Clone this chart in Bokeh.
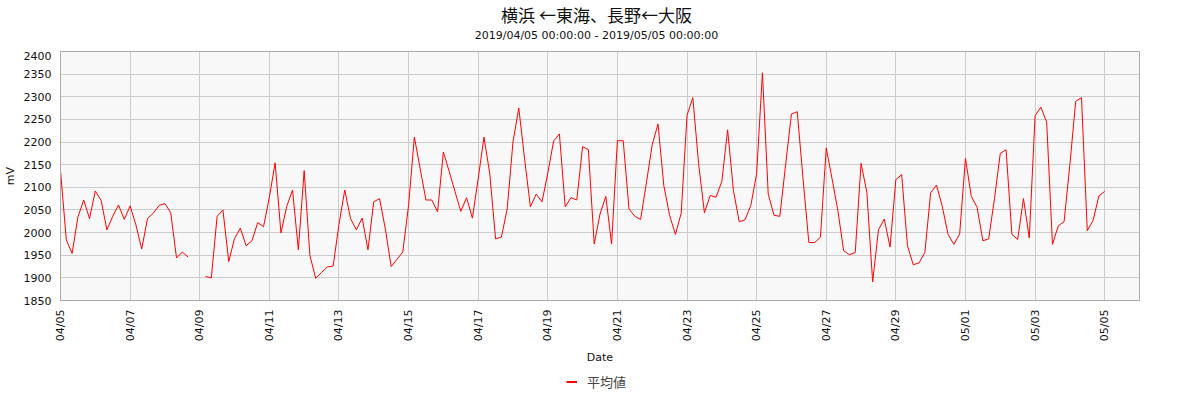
import math
import numpy as np
import pandas as pd
from bokeh.plotting import figure
from bokeh.layouts import column
from bokeh.models import (ColumnDataSource, FixedTicker, DatetimeTickFormatter,
                          Range1d, Label, Legend, LegendItem)
from bokeh.embed import file_html
from bokeh.resources import INLINE

title_text = "横浜 ←東海、長野←大阪"
subtitle_text = "2019/04/05 00:00:00 - 2019/05/05 00:00:00"
series_name = "平均値"
x_label = "Date"
y_label = "mV"
start_time = "2019-04-05 00:00"
step = "4h"

# 4-hourly mean values (mV); None = missing
values_0405_0409 = [2137, 1984, 1954, 2034, 2072, 2031, 2092, 2071, 2006, 2036,
                    2061, 2029, 2059, 2017, 1964, 2031, 2043, 2060, 2064, 2044,
                    1944, 1957, 1946, None, None, 1903, 1900, 2036, 2050, 1936]
values_0410_0414 = [1987, 2010, 1971, 1982, 2022, 2013, 2078, 2154, 1999, 2058,
                    2094, 1962, 2137, 1949, 1899, 1912, 1924, 1926, 2018, 2094,
                    2031, 2006, 2032, 1962, 2068, 2075, 2008, 1925, 1941, 1957]
values_0415_0419 = [2060, 2211, 2141, 2072, 2072, 2046, 2178, 2135, 2091, 2047,
                    2077, 2032, 2119, 2211, 2130, 1986, 1990, 2052, 2200, 2275,
                    2163, 2057, 2085, 2068, 2131, 2202, 2218, 2057, 2077, 2072]
values_0420_0424 = [2190, 2183, 1975, 2041, 2080, 1975, 2203, 2203, 2052, 2036,
                    2029, 2110, 2194, 2240, 2104, 2038, 1996, 2043, 2259, 2298,
                    2152, 2044, 2082, 2078, 2113, 2227, 2093, 2024, 2028, 2060]
values_0425_0429 = [2130, 2353, 2085, 2038, 2036, 2150, 2262, 2267, 2119, 1978,
                    1978, 1990, 2187, 2119, 2049, 1960, 1951, 1956, 2153, 2089,
                    1891, 2006, 2030, 1968, 2117, 2128, 1971, 1929, 1933, 1956]
values_0430_0505 = [2088, 2105, 2058, 1996, 1974, 1997, 2164, 2080, 2056, 1982,
                    1986, 2075, 2175, 2183, 1996, 1985, 2075, 1988, 2258, 2277,
                    2244, 1974, 2015, 2024, 2150, 2290, 2298, 2004, 2027, 2081,
                    2091]

y_ticks = list(range(1850, 2401, 50))
x_tick_dates = pd.date_range("2019-04-05", "2019-05-05", freq="2D")

all_vals = (values_0405_0409 + values_0410_0414 + values_0415_0419 +
            values_0420_0424 + values_0425_0429 + values_0430_0505)
y = np.array([np.nan if v is None else float(v) for v in all_vals])
t = pd.date_range(start_time, periods=len(y), freq=step)

src = ColumnDataSource(data=dict(t=t, y=y))

W = 1184
HEAD_H, FOOT_H = 51, 22

# ---- header (titles) ----
head = figure(width=W, height=HEAD_H, x_range=Range1d(0, W), y_range=Range1d(0, HEAD_H),
              output_backend="svg", toolbar_location=None,
              x_axis_location=None, y_axis_location=None, min_border=0)
head.grid.visible = False
head.outline_line_color = None
head.add_layout(Label(x=W / 2, y=37, text=title_text,
                      text_align="center", text_baseline="middle",
                      text_font="Noto Sans CJK JP", text_font_size="17px",
                      text_color="#111111"))
head.add_layout(Label(x=W / 2, y=16, text=subtitle_text,
                      text_align="center", text_baseline="middle",
                      text_font="DejaVu Sans", text_font_size="11px",
                      text_color="#111111"))

# ---- main plot ----
p = figure(frame_width=1079, frame_height=249, x_axis_type="datetime",
           output_backend="svg", toolbar_location=None,
           x_range=Range1d(pd.Timestamp("2019-04-05"), pd.Timestamp("2019-05-06")),
           y_range=Range1d(1850, 2400),
           min_border_left=53, min_border_right=52, min_border_top=0,
           min_border_bottom=70)

p.background_fill_color = "#f8f8f8"
p.border_fill_color = "white"
p.outline_line_color = "#aaaaaa"
p.xgrid.grid_line_color = "#cccccc"
p.ygrid.grid_line_color = "#cccccc"

r = p.line("t", "y", source=src, color="#ff0000", line_width=1)

xa = p.xaxis[0]
xa.ticker = FixedTicker(ticks=[d.value / 1e6 for d in x_tick_dates])
xa.formatter = DatetimeTickFormatter(days="%m/%d", months="%m/%d", hours="%m/%d")
xa.major_label_orientation = math.pi / 2
xa.axis_label = x_label

ya = p.yaxis[0]
ya.ticker = FixedTicker(ticks=y_ticks)
ya.axis_label = y_label

for ax in (xa, ya):
    ax.axis_line_color = "#aaaaaa"
    ax.major_tick_line_color = None
    ax.minor_tick_line_color = None
    ax.major_tick_out = 0
    ax.major_tick_in = 0
    ax.major_label_text_font = "DejaVu Sans"
    ax.major_label_text_font_size = "11px"
    ax.major_label_text_color = "#111111"
    ax.axis_label_text_font = "DejaVu Sans"
    ax.axis_label_text_font_size = "11px"
    ax.axis_label_text_font_style = "normal"
    ax.axis_label_text_color = "#111111"
    ax.major_label_standoff = 9
    ax.axis_label_standoff = 7
ya.axis_label_standoff = 4

# ---- footer (legend) ----
foot = figure(width=W, height=FOOT_H, x_range=Range1d(0, 1), y_range=Range1d(0, 1),
              output_backend="svg", toolbar_location=None,
              x_axis_location=None, y_axis_location=None, min_border=0)
foot.grid.visible = False
foot.outline_line_color = None
key = foot.line("t", "y", source=src, color="#ff0000", line_width=2)
legend = Legend(items=[LegendItem(label=series_name, renderers=[key])],
                orientation="horizontal", location="center",
                border_line_color=None, background_fill_alpha=0,
                label_text_font="Noto Sans CJK JP", label_text_font_size="13px",
                glyph_width=11, glyph_height=18, label_height=18,
                label_standoff=10, padding=0, margin=0)
foot.add_layout(legend, "center")

layout = column(head, p, foot, spacing=0)
open("out.html", "w").write(file_html(layout, INLINE))
